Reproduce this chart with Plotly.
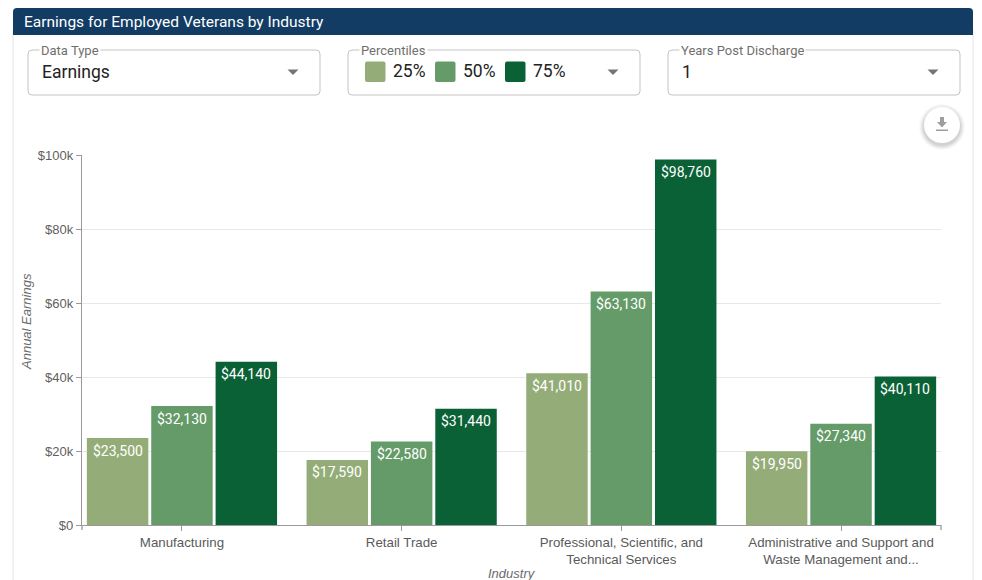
import plotly.graph_objects as go

# ---- data -------------------------------------------------------------
industries = [
    "Manufacturing",
    "Retail Trade",
    "Professional, Scientific, and<br>Technical Services",
    "Administrative and Support and<br>Waste Management and...",
]
percentiles = ["25%", "50%", "75%"]
p25 = [23500, 17590, 41010, 19950]
p50 = [32130, 22580, 63130, 27340]
p75 = [44140, 31440, 98760, 40110]
series = [p25, p50, p75]
colors = ["#94ad78", "#659b68", "#0b6136"]
y_ticks = [0, 20000, 40000, 60000, 80000, 100000]
y_tick_text = ["$0", "$20k", "$40k", "$60k", "$80k", "$100k"]

# ---- page geometry (pixels) -------------------------------------------
W, H = 982, 580
L, R, T, B = 82, 941, 155, 525
X_RANGE = [-0.455, 3.455]
BARGAP = 0.121
BARGROUPGAP = 0.045


def px(x):
    return (x - L) / (R - L)


def py(y):
    return (B - y) / (B - T)


def rrect(x0, y0, x1, y1, r, top_only=False):
    """Rounded rectangle path in paper coordinates (pixel input)."""
    rb = 0 if top_only else r
    pts = [
        f"M{px(x0 + r)},{py(y0)}",
        f"L{px(x1 - r)},{py(y0)}",
        f"Q{px(x1)},{py(y0)} {px(x1)},{py(y0 + r)}",
        f"L{px(x1)},{py(y1 - rb)}",
        f"Q{px(x1)},{py(y1)} {px(x1 - rb)},{py(y1)}",
        f"L{px(x0 + rb)},{py(y1)}",
        f"Q{px(x0)},{py(y1)} {px(x0)},{py(y1 - rb)}",
        f"L{px(x0)},{py(y0 + r)}",
        f"Q{px(x0)},{py(y0)} {px(x0 + r)},{py(y0)}",
        "Z",
    ]
    return " ".join(pts)


fig = go.Figure()
for name, vals, col in zip(percentiles, series, colors):
    fig.add_trace(go.Bar(
        name=name,
        x=industries,
        y=vals,
        marker=dict(color=col, line=dict(width=0)),
        hovertemplate="%{x}<br>" + name + ": $%{y:,}<extra></extra>",
    ))

shapes = []
annotations = []
ui_font = "Roboto"

# value labels just inside the top of each bar
step_px = (R - L) / (X_RANGE[1] - X_RANGE[0])
slot_px = (1 - BARGAP) * step_px / len(series)
for i, vals in enumerate(series):
    for cat, v in zip(industries, vals):
        annotations.append(dict(
            x=cat, y=v, xref="x", yref="y",
            xshift=(i - (len(series) - 1) / 2) * slot_px, yshift=-12.5,
            xanchor="center", yanchor="middle", showarrow=False,
            text=f"${v:,}",
            font=dict(family="Roboto", size=14, color="white")))

# card outline and header bar
for xe in (13, 973):
    shapes.append(dict(type="line", xref="paper", yref="paper",
                       x0=px(xe), x1=px(xe), y0=py(30), y1=py(H),
                       line=dict(color="#e3e3e3", width=1)))
shapes.append(dict(type="path", xref="paper", yref="paper",
                   path=rrect(13, 8, 973, 35, 4, top_only=True),
                   fillcolor="#123c63", line=dict(width=0)))
annotations.append(dict(
    x=px(22), y=py(21.5), xref="paper", yref="paper",
    xanchor="left", yanchor="middle", showarrow=False,
    text="Earnings for Employed Veterans by Industry",
    font=dict(family=ui_font, size=15.5, color="white")))

# selector boxes
boxes = [
    (28, 320, "Data Type", 41, 293),
    (348, 640, "Percentiles", 361, 613),
    (668, 960, "Years Post Discharge", 681, 933),
]
for x0, x1, label, lx, ax in boxes:
    shapes.append(dict(type="path", xref="paper", yref="paper",
                       path=rrect(x0, 50, x1, 95, 4),
                       fillcolor="white", line=dict(color="#c4c4c4", width=1)))
    annotations.append(dict(
        x=px(lx - 2), y=py(50), xref="paper", yref="paper",
        xanchor="left", yanchor="middle", showarrow=False,
        text=label, bgcolor="white", borderpad=1,
        font=dict(family=ui_font, size=13, color="#6f6f6f")))
    tri = (f"M{px(ax - 5.5)},{py(69.5)} L{px(ax + 5.5)},{py(69.5)} "
           f"L{px(ax)},{py(75)} Z")
    shapes.append(dict(type="path", xref="paper", yref="paper", path=tri,
                       fillcolor="#757575", line=dict(width=0)))

annotations.append(dict(
    x=px(40), y=py(72), xref="paper", yref="paper",
    xanchor="left", yanchor="middle", showarrow=False,
    text="Earnings", font=dict(family=ui_font, size=17.5, color="#222222")))
annotations.append(dict(
    x=px(680), y=py(72), xref="paper", yref="paper",
    xanchor="left", yanchor="middle", showarrow=False,
    text="1", font=dict(family=ui_font, size=17.5, color="#222222")))

# percentile swatches inside the second selector
for i, (name, col) in enumerate(zip(percentiles, colors)):
    sx = 365 + i * 70
    shapes.append(dict(type="path", xref="paper", yref="paper",
                       path=rrect(sx, 61.5, sx + 20.5, 82, 2),
                       fillcolor=col, line=dict(width=0)))
    annotations.append(dict(
        x=px(sx + 26), y=py(71), xref="paper", yref="paper",
        xanchor="left", yanchor="middle", showarrow=False,
        text=name, font=dict(family=ui_font, size=17.5, color="#222222")))

# download button
cx, cy, cr = 942, 125, 18
for k, op in [(5, 0.025), (4, 0.03), (3, 0.035), (2, 0.04), (1, 0.05)]:
    shapes.append(dict(type="circle", xref="paper", yref="paper",
                       x0=px(cx - cr - k), x1=px(cx + cr + k),
                       y0=py(cy + cr + k + 2), y1=py(cy - cr - k + 2),
                       fillcolor=f"rgba(0,0,0,{op})", line=dict(width=0)))
shapes.append(dict(type="circle", xref="paper", yref="paper",
                   x0=px(cx - cr), x1=px(cx + cr),
                   y0=py(cy + cr), y1=py(cy - cr),
                   fillcolor="white", line=dict(width=0)))
arrow = (f"M{px(cx - 2)},{py(117)} L{px(cx + 2)},{py(117)} "
         f"L{px(cx + 2)},{py(122)} L{px(cx + 5)},{py(122)} "
         f"L{px(cx)},{py(127.5)} L{px(cx - 5)},{py(122)} "
         f"L{px(cx - 2)},{py(122)} Z")
shapes.append(dict(type="path", xref="paper", yref="paper", path=arrow,
                   fillcolor="#9e9e9e", line=dict(width=0)))
shapes.append(dict(type="rect", xref="paper", yref="paper",
                   x0=px(cx - 6), x1=px(cx + 6), y0=py(131), y1=py(129.5),
                   fillcolor="#9e9e9e", line=dict(width=0)))

# outer ticks at the ends of the category axis
for xe in (0, 1):
    shapes.append(dict(type="line", xref="paper", yref="paper",
                       x0=xe, x1=xe, y0=0, y1=py(B + 5),
                       line=dict(color="#9a9a9a", width=1.3)))

# axis titles
annotations.append(dict(
    x=px(26), y=py(322), xref="paper", yref="paper",
    xanchor="center", yanchor="middle", showarrow=False, textangle=-90,
    text="<i>Annual Earnings</i>",
    font=dict(family="Liberation Sans", size=13, color="#6b6b6b")))
annotations.append(dict(
    x=0.5, y=py(573), xref="paper", yref="paper",
    xanchor="center", yanchor="middle", showarrow=False,
    text="<i>Industry</i>",
    font=dict(family="Liberation Sans", size=13, color="#6b6b6b")))

fig.update_layout(
    width=W, height=H,
    margin=dict(l=L, r=W - R, t=T, b=H - B, pad=0),
    paper_bgcolor="white", plot_bgcolor="white",
    barmode="group", bargap=BARGAP, bargroupgap=BARGROUPGAP,
    showlegend=False,
    shapes=shapes, annotations=annotations,
    font=dict(family="Liberation Sans", size=12, color="#5f5f5f"),
)
fig.update_xaxes(
    range=X_RANGE,
    showline=True, linecolor="#9a9a9a", linewidth=1.3,
    ticks="outside", ticklen=5, tickcolor="#9a9a9a", tickwidth=1.3,
    showgrid=False, zeroline=False,
    tickfont=dict(family="Liberation Sans", size=13.3, color="#5a5a5a"),
)
fig.update_yaxes(
    range=[0, 100000],
    tickmode="array", tickvals=y_ticks, ticktext=y_tick_text,
    showline=True, linecolor="#9a9a9a", linewidth=1.3,
    ticks="outside", ticklen=5, tickcolor="#9a9a9a", tickwidth=1.3,
    showgrid=True, gridcolor="#e8e8e8", gridwidth=1,
    zeroline=False,
    tickfont=dict(family="Liberation Sans", size=13, color="#5f5f5f"),
)

fig.write_html("out.html")
